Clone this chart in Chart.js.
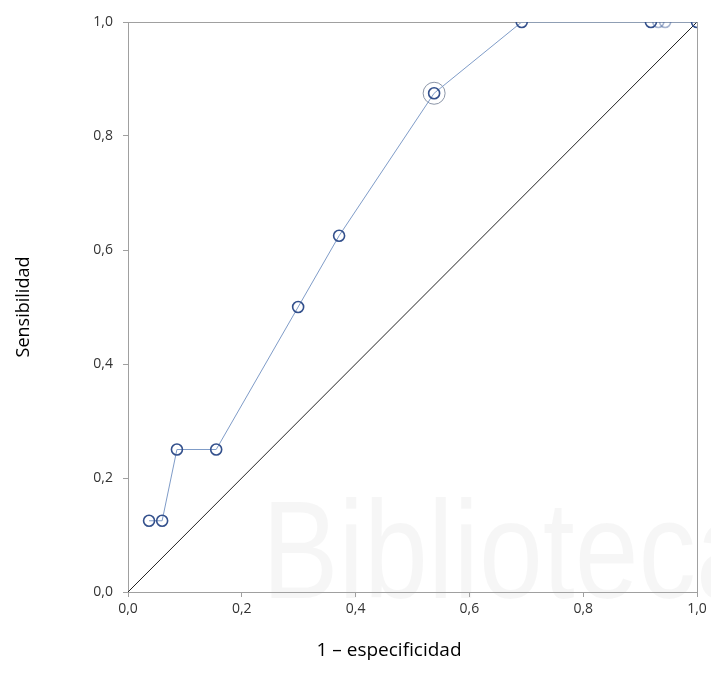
<!DOCTYPE html>
<html>
<head>
<meta charset="utf-8">
<script src="https://cdn.jsdelivr.net/npm/chart.js@4"></script>
<style>
  html, body { margin: 0; padding: 0; background: #fff; }
  #wrap { width: 711px; height: 673px; }
</style>
</head>
<body>
<div id="wrap"><canvas id="roc"></canvas></div>
<script>
// 1 - especificidad (x) y sensibilidad (y) de cada punto de corte
const fpr = [0.037, 0.060, 0.086, 0.155, 0.299, 0.371, 0.538, 0.692, 0.919, 0.932, 0.944, 1.0];
const sens = [0.125, 0.125, 0.25, 0.25, 0.5, 0.625, 0.875, 1.0, 1.0, 1.0, 1.0, 1.0];

// punto optimo marcado con un circulo
const optimo = [0.538, 0.875];

// linea de referencia
const diagX = [0, 1];
const diagY = [0, 1];

const xTitle = "1 – especificidad";
const yTitle = "Sensibilidad";

const tickFont = { family: "Open Sans", size: 14 };
const axisGray = "#a0a0a0";

const rocPoints = fpr.map((v, i) => ({ x: v, y: sens[i] }));
const diagPoints = diagX.map((v, i) => ({ x: v, y: diagY[i] }));

// los dos puntos que se solapan arriba a la derecha salen mas claros
const markerColors = fpr.map((v, i) => (i === 9 || i === 10) ? "rgba(60,90,150,0.45)" : "#33508c");

const frame = {
    id: "frame",
    beforeDraw(chart) {
        const ctx = chart.ctx;
        ctx.save();
        ctx.fillStyle = "#fff";
        ctx.fillRect(0, 0, chart.width, chart.height);
        // marca de agua apenas visible (letra estrecha)
        ctx.fillStyle = "rgba(0,0,0,0.035)";
        ctx.font = "140px 'Liberation Sans'";
        ctx.textBaseline = "alphabetic";
        ctx.translate(262, 598);
        ctx.scale(0.82, 1);
        ctx.fillText("Biblioteca", 0, 0);
        ctx.restore();
    },
    beforeDatasetsDraw(chart) {
        const a = chart.chartArea;
        const ctx = chart.ctx;
        ctx.save();
        ctx.strokeStyle = axisGray;
        ctx.lineWidth = 1;
        ctx.strokeRect(a.left + 0.5, a.top + 0.5, a.right - a.left, a.bottom - a.top);
        ctx.restore();
    },
    afterDraw(chart) {
        const ctx = chart.ctx;
        ctx.save();
        ctx.fillStyle = "#000";
        ctx.font = "19px 'Open Sans'";
        ctx.textAlign = "center";
        ctx.textBaseline = "middle";
        ctx.fillText(xTitle, 389, 651);
        ctx.restore();
    }
};

new Chart(document.getElementById("roc"), {
    type: "scatter",
    data: {
        datasets: [
            {
                label: "ROC",
                data: rocPoints,
                showLine: true,
                borderColor: "#7f9cc8",
                borderWidth: 1,
                pointRadius: 5.5,
                pointBorderWidth: 1.6,
                pointBorderColor: markerColors,
                pointBackgroundColor: "rgba(0,0,0,0)",
                pointHoverRadius: 5.5
            },
            {
                label: "optimo",
                data: [{ x: optimo[0], y: optimo[1] }],
                showLine: false,
                pointRadius: 11,
                pointBorderWidth: 1,
                pointBorderColor: "#8c96a8",
                pointBackgroundColor: "rgba(0,0,0,0)"
            },
            {
                label: "referencia",
                data: diagPoints,
                showLine: true,
                borderColor: "#222",
                borderWidth: 1,
                pointRadius: 0
            }
        ]
    },
    options: {
        responsive: true,
        maintainAspectRatio: false,
        animation: false,
        layout: { padding: { top: 22, right: 14, left: 0, bottom: 0 } },
        plugins: {
            legend: { display: false },
            tooltip: { enabled: false }
        },
        scales: {
            x: {
                type: "linear",
                min: 0,
                max: 1,
                afterFit(scale) { scale.height = 81; },
                ticks: {
                    stepSize: 0.2,
                    padding: 4,
                    color: "#333",
                    font: tickFont,
                    callback: v => v.toFixed(1).replace(".", ",")
                },
                grid: {
                    drawOnChartArea: false,
                    tickLength: 5,
                    color: axisGray
                },
                border: { color: axisGray }
            },
            y: {
                type: "linear",
                min: 0,
                max: 1,
                afterFit(scale) { scale.width = 128; },
                ticks: {
                    stepSize: 0.2,
                    padding: 10,
                    color: "#333",
                    font: tickFont,
                    callback: v => v.toFixed(1).replace(".", ",")
                },
                grid: {
                    drawOnChartArea: false,
                    tickLength: 5,
                    color: axisGray
                },
                border: { color: axisGray },
                title: {
                    display: true,
                    text: yTitle,
                    color: "#000",
                    font: { family: "Open Sans", size: 18 },
                    padding: { top: 13, bottom: 0 }
                }
            }
        }
    },
    plugins: [frame]
});
</script>
</body>
</html>
